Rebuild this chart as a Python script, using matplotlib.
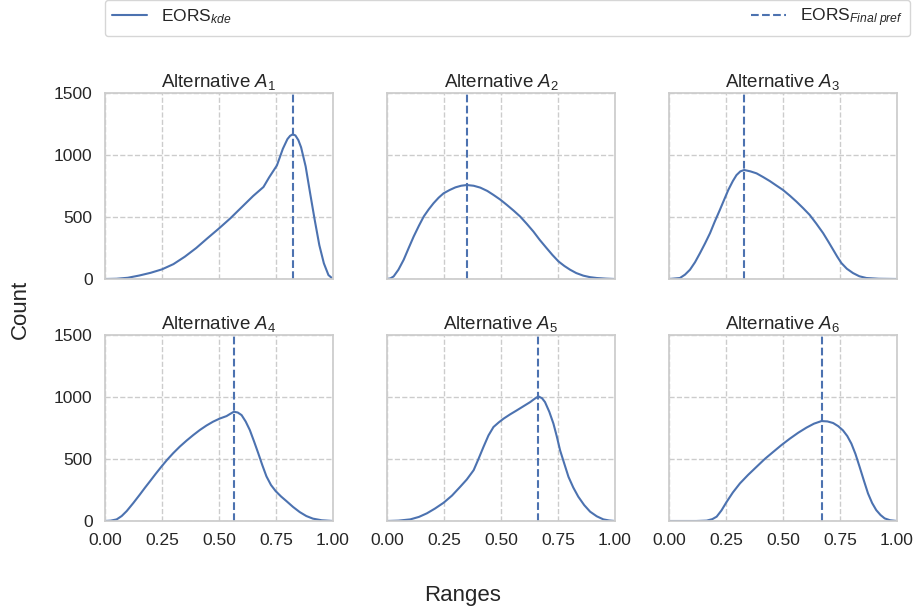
import matplotlib
matplotlib.use("Agg")
import matplotlib.pyplot as plt
import seaborn as sns
from matplotlib.lines import Line2D

# KDE curves of the EORS ranges for each alternative (x = range, y = count)
x_a1 = [0.0, 0.05, 0.1, 0.15, 0.2, 0.25, 0.3, 0.35, 0.4, 0.45, 0.5, 0.55, 0.6, 0.65,
        0.695, 0.72, 0.754, 0.78, 0.8, 0.812, 0.823, 0.835, 0.848, 0.86, 0.88, 0.9,
        0.92, 0.94, 0.96, 0.98, 1.0]
y_a1 = [0, 2, 10, 28, 50, 78, 120, 180, 250, 330, 408, 490, 580, 670,
        742, 820, 916, 1050, 1128, 1155, 1166, 1158, 1120, 1062, 908, 688,
        474, 273, 126, 32, 0]

x_a2 = [0.0, 0.015, 0.029, 0.05, 0.073, 0.095, 0.117, 0.14, 0.161, 0.183, 0.204, 0.226,
        0.248, 0.275, 0.3, 0.325, 0.35, 0.38, 0.409, 0.44, 0.467, 0.497, 0.526, 0.555,
        0.584, 0.613, 0.642, 0.67, 0.7, 0.725, 0.752, 0.778, 0.803, 0.83, 0.861, 0.89,
        0.92, 0.96, 1.0]
y_a2 = [0, 5, 21, 75, 155, 250, 343, 430, 504, 562, 611, 655,
        691, 718, 739, 752, 758, 752, 737, 710, 678, 640, 597, 552,
        504, 445, 383, 315, 249, 195, 142, 105, 75, 48, 27, 15,
        8, 3, 0]

x_a3 = [0.0, 0.048, 0.07, 0.092, 0.114, 0.136, 0.158, 0.18, 0.2, 0.223, 0.242, 0.26,
        0.28, 0.296, 0.313, 0.33, 0.357, 0.384, 0.413, 0.442, 0.47, 0.5, 0.53, 0.559,
        0.588, 0.617, 0.646, 0.676, 0.7, 0.72, 0.738, 0.756, 0.78, 0.807, 0.835, 0.866,
        0.92, 1.0]
y_a3 = [0, 8, 35, 75, 135, 209, 287, 370, 460, 557, 640, 718,
        790, 838, 868, 879, 868, 852, 822, 790, 755, 718, 672, 624,
        572, 517, 447, 370, 298, 236, 180, 129, 83, 48, 22, 8,
        2, 0]

x_a4 = [0.0, 0.025, 0.051, 0.073, 0.095, 0.124, 0.153, 0.175, 0.197, 0.222, 0.248, 0.273,
        0.299, 0.328, 0.358, 0.387, 0.416, 0.445, 0.474, 0.503, 0.533, 0.55, 0.565, 0.582,
        0.599, 0.617, 0.635, 0.654, 0.672, 0.69, 0.708, 0.728, 0.749, 0.772, 0.796, 0.825,
        0.854, 0.883, 0.912, 0.95, 1.0]
y_a4 = [0, 3, 13, 40, 80, 145, 214, 268, 320, 380, 440, 495,
        547, 600, 649, 693, 734, 770, 801, 826, 846, 865, 881, 875,
        854, 802, 734, 640, 547, 450, 360, 290, 240, 198, 160, 113,
        72, 40, 19, 6, 0]

x_a5 = [0.0, 0.05, 0.102, 0.14, 0.175, 0.21, 0.248, 0.285, 0.321, 0.35, 0.38, 0.4,
        0.423, 0.445, 0.467, 0.49, 0.511, 0.54, 0.569, 0.598, 0.628, 0.647, 0.664, 0.68,
        0.693, 0.712, 0.73, 0.745, 0.759, 0.778, 0.796, 0.817, 0.839, 0.865, 0.891, 0.92,
        0.949, 0.975, 1.0]
y_a5 = [0, 3, 13, 33, 62, 100, 147, 205, 276, 335, 410, 495,
        597, 690, 758, 795, 825, 860, 892, 925, 959, 985, 1005, 990,
        959, 880, 785, 680, 571, 460, 356, 270, 196, 128, 75, 38,
        13, 4, 0]

x_a6 = [0.0, 0.12, 0.165, 0.19, 0.209, 0.23, 0.253, 0.28, 0.311, 0.347, 0.384, 0.42,
        0.457, 0.493, 0.53, 0.567, 0.603, 0.636, 0.669, 0.695, 0.72, 0.742, 0.763, 0.782,
        0.8, 0.818, 0.836, 0.855, 0.873, 0.891, 0.909, 0.928, 0.946, 0.97, 1.0]
y_a6 = [0, 0, 3, 15, 35, 85, 155, 230, 303, 372, 437, 500,
        557, 612, 664, 712, 753, 785, 806, 803, 790, 765, 731, 685,
        624, 540, 437, 325, 222, 145, 88, 48, 21, 6, 0]

# final preference value of each alternative
final_pref = [0.823, 0.350, 0.330, 0.565, 0.661, 0.669]

titles = [r"Alternative $A_{%d}$" % i for i in range(1, 7)]
curves = [(x_a1, y_a1), (x_a2, y_a2), (x_a3, y_a3),
          (x_a4, y_a4), (x_a5, y_a5), (x_a6, y_a6)]

sns.set_theme(style="whitegrid", rc={"grid.linestyle": "--"})
plt.rcParams["font.family"] = ["Liberation Sans", "DejaVu Sans"]
plt.rcParams["mathtext.fontset"] = "custom"
plt.rcParams["mathtext.rm"] = "Liberation Sans"
plt.rcParams["mathtext.it"] = "Liberation Sans:italic"

color = "#4C72B0"

fig, axes = plt.subplots(2, 3, figsize=(9.15, 6.11), dpi=100, sharex=True, sharey=True)
fig.subplots_adjust(left=0.1148, right=0.9803, bottom=0.1473, top=0.8478,
                    wspace=0.237, hspace=0.301)

for ax, (xs, ys), pref, title in zip(axes.flat, curves, final_pref, titles):
    ax.plot(xs, ys, color=color, lw=1.5)
    ax.axvline(pref, color=color, ls="--", lw=1.5)
    ax.set_title(title, fontsize=13.5, pad=4)
    ax.set_xlim(0, 1)
    ax.set_ylim(0, 1500)
    ax.set_xticks([0, 0.25, 0.5, 0.75, 1.0])
    ax.set_yticks([0, 500, 1000, 1500])
    ax.tick_params(labelsize=12.5, pad=3)
    for s in ax.spines.values():
        s.set_color("#cccccc")

handles = [Line2D([], [], color=color, lw=1.5),
           Line2D([], [], color=color, lw=1.5, ls="--")]
labels = [r"EORS$_{kde}$", r"EORS$_{Final\ pref}$"]
fig.legend(handles, labels, loc="lower left",
           bbox_to_anchor=(105 / 915, 1 - 36 / 611, 805 / 915, 33 / 611),
           ncol=2, mode="expand", borderaxespad=0, fontsize=12.5, frameon=True)

fig.text(0.022, 0.493, "Count", rotation=90, ha="center", va="center", fontsize=16)
fig.text(0.506, 0.026, "Ranges", ha="center", va="center", fontsize=16)

fig.savefig("out.png", dpi=100)
